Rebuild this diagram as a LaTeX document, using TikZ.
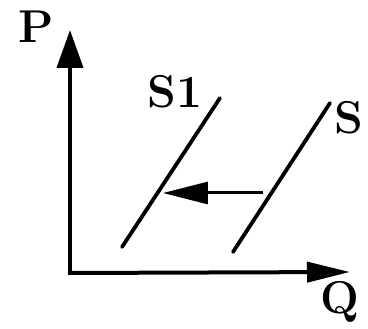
\documentclass[tikz,border=0pt]{standalone}
\usetikzlibrary{arrows.meta}
\begin{document}
\begin{tikzpicture}[x=1pt, y=-1pt, font=\fontsize{46}{46}\selectfont\bfseries,
  axis/.style={line width=4pt},
  supply/.style={line width=3.8pt, line cap=round},
  shiftarrow/.style={line width=3pt, -{Triangle[length=45pt, width=22pt]}}]
  \useasboundingbox (0,0) rectangle (368,329);

  % axes
  \coordinate (origin) at (70,273);
  \coordinate (ptop) at (70,30);
  \coordinate (qend) at (350,272);
  \draw[axis, -{Triangle[length=38pt, width=26pt]}] (origin) -- (ptop);
  \draw[axis, -{Triangle[length=43pt, width=20pt]}] ([xshift=-2pt]origin) -- (qend);
  \node (plabel) at (36,27) {P};
  \node (qlabel) at (340,302) {Q};

  % supply curves
  \coordinate (s1low) at (122,247);
  \coordinate (s1high) at (220,98);
  \coordinate (slow) at (233,252);
  \coordinate (shigh) at (330,103);
  \draw[supply] (s1low) -- (s1high);
  \draw[supply] (slow) -- (shigh);
  \node (s1label) at (175,92) {S1};
  \node (slabel) at (349,118) {S};

  % shift of supply
  \coordinate (shiftfrom) at (263,193);
  \coordinate (shiftto) at (163,193);
  \draw[shiftarrow] (shiftfrom) -- (shiftto);
\end{tikzpicture}
\end{document}
